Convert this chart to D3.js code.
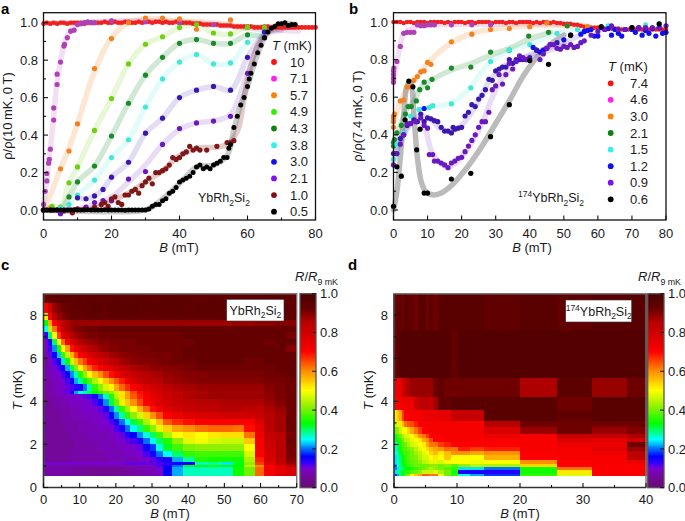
<!DOCTYPE html>
<html><head><meta charset="utf-8">
<script src="https://cdnjs.cloudflare.com/ajax/libs/d3/7.8.5/d3.min.js"></script>
<style>html,body{margin:0;padding:0;background:#fff}svg{display:block;font-family:"Liberation Sans",Arial,sans-serif;fill:#1a1a1a}</style>
</head><body><svg id="c" width="685" height="521"></svg>
<script>
// ---------- panel a ----------
const aRedV=[.995,1,.995,1,.995,1,1,.995,1,1,1,1,.995,1,1,1,1,1,1.005,1,1,1.005,1,1,1.005,1.005,1,1,1.005,1,1.005,1.005,1,1.005,1.005,1,1.005,1,1,1.005,1,1,1,1,.995,.995,.995,.99,.99,.99,.99,.99,.985,.985,.985,.985,.98,.98,.98,.98,.98,.98,.975,.975,.975,.98,.98,.975,.975,.975,.975,.975,.975,.975,.975,.975,.975,.975,.975,.975,.975];
const a71=[[0,.03],[.5,.1],[1,.155],[1,.195],[1.5,.25],[1.7,.27],[2,.325],[3,.48],[3,.545],[4,.67],[4,.725],[5,.79],[6,.875],[6.2,.885],[7,.92],[8,.955],[9,.96],[10,.99],[11,.995],[12,1],[13,1.005],[14,1],[15,1],[20,1.01],[30,1.005],[40,1],[50,.99],[60,.975],[65,.965]];
const g71=[[0,.03],[1,.17],[2,.33],[3,.5],[4,.69],[5,.79],[6,.88],[7,.93],[8,.96],[10,.99],[15,1.005],[30,1.01],[50,.99],[60,.97],[75,.955]];
const a57=[[0,0],[2,.01],[5,.22],[7.5,.315],[10,.46],[15,.755],[20,.915],[25,1],[30,1.025],[35,1.025],[40,1.02],[45,.965],[55,1.015],[60,.975]];
const g57=[[0,0],[2,.08],[5,.22],[7.5,.33],[10,.46],[15,.74],[20,.92],[25,1],[30,1.02],[40,1.01],[50,1],[60,.975]];
const a49=[[0,0],[2.5,.02],[5,.015],[7.5,.145],[10,.23],[15,.425],[20,.595],[25,.78],[30,.885],[35,.925],[40,.975],[45,.99],[50,.945],[55,.94],[60,.975],[65,.975]];
const a43=[[0,0],[5,.005],[7.5,.07],[10,.15],[15,.235],[20,.395],[25,.57],[30,.72],[35,.815],[40,.89],[45,.91],[50,.89],[55,.89],[60,.935],[65,.92]];
const a38=[[0,0],[5,.01],[7.5,.03],[10,.08],[15,.16],[20,.28],[25,.375],[30,.55],[35,.7],[40,.79],[45,.83],[50,.78],[55,.785],[60,.895],[65,.95]];
const a30=[[10,.065],[12.5,.06],[15,.075],[17.5,.11],[20,.175],[25,.255],[30,.41],[35,.49],[40,.6],[45,.64],[50,.66],[55,.64],[60,.815],[65,.95]];
const a21=[[0,0],[2.5,0],[5,-.02],[7.5,0],[10,.005],[12.5,.015],[15,.04],[17.5,.05],[20,.05],[25,.165],[30,.205],[35,.35],[40,.435],[45,.465],[50,.475],[55,.5],[60,.73],[65,.92]];
const g21=[[0,0],[10,.005],[15,.03],[20,.07],[25,.15],[30,.24],[35,.35],[40,.43],[45,.465],[50,.475],[55,.51],[60,.73],[65,.93],[70,.96]];
const a10=[[0,0],[2,0],[4,0],[6,-.005],[8.5,-.015],[10,.005],[12,.005],[15,.015],[17,.03],[18,.04],[19,.02],[20,.06],[21,.07],[22,.04],[23,.03],[24,.08],[25,.08],[26,.1],[27,.11],[28,.09],[29,.13],[30,.15],[31,.17],[32,.14],[33,.2],[34,.2],[35,.21],[36,.22],[37,.24],[38,.28],[39,.27],[40,.28],[41,.3],[42,.31],[43,.34],[44,.32],[45,.33],[46,.32],[48,.32],[51,.34],[54,.36],[55,.36],[56,.37]];
const g10=[[0,0],[15,.01],[20,.05],[25,.09],[30,.15],[35,.21],[40,.29],[45,.33],[50,.335],[54,.35],[57,.42],[60,.7],[63,.88],[66,.95],[70,.97],[74,.98]];
const a05=[[0,0],[1,0],[2,0],[3,0],[4,0],[5,0],[6,0],[7,0],[8,0],[9,.002],[10,0],[11,0],[12,0],[13,.002],[14,0],[15,0],[16,0],[17,0],[18,.002],[19,0],[20,0],[21,0],[22,0],[23,0],[24,-.002],[25,0],[26,0],[27,0],[28,0],[29,0],[30,0],[31,.005],[32,.02],[33,.03],[34,.03],[35,.05],[36,.06],[37,.09],[38,.1],[39,.12],[40,.15],[41,.16],[42,.17],[43,.18],[44,.2],[45,.23],[46,.24],[47,.22],[48,.23],[49,.22],[50,.24],[51,.25],[52,.26],[53,.28],[54,.28],[54.5,.33],[55,.35],[56,.44],[57,.5],[58,.56],[59,.6],[60,.66],[60.5,.7],[61,.73],[62,.78],[63,.84],[64,.88],[65,.92],[66,.95],[67,.97],[68,.98],[69,.995],[70,.995],[71,1],[72,.985],[73,.99],[74,.99]];
const g05=[[0,0],[30,0],[33,.03],[37,.09],[41,.16],[45,.23],[50,.24],[54,.29],[56,.43],[58,.56],[60,.66],[62,.78],[64,.88],[66,.95],[70,.995],[74,.99]];
const legendLabelsA=["10","7.1","5.7","4.9","4.3","3.8","3.0","2.1","1.0","0.5"];
const legendColorsA=["#ff1010","#ff20f0","#ff8000","#30f000","#108010","#30f0f0","#1010f0","#8010f0","#801010","#000000"];
// ---------- panel b ----------
const bRedV=[1,1,1,.995,1,1,.995,1,1,1,.995,1,1,1,1,.995,1,.995,1,1,1,.995,1,1,.995,1,1,1,1,.995,1,1,1,.995,1,1,.995,1,1,1,1,.995,1,.995,1,1,.995,1,.995,.995,.99,.99,.99,.985,.985,.98,.975,.975,.97,.97,.97,.97,.965,.965,.965,.965,.965,.96,.96,.96,.965,.96,.96,.96,.96,.96,.96,.96,.96,.96,.96];
const b46=[[0,.68],[0,.7],[0,.72],[0,.74],[.1,.755],[1,.79],[2,.87],[3,.94],[4,.945],[5,.945],[6,.945],[7,.985],[8,.98],[9,.98],[10,.985],[11,.985],[12,.985],[17,.985],[23,.985],[28.5,.985]];
const g46=[[0,.68],[1,.79],[2,.88],[3,.94],[5,.96],[7,.98],[12,.985],[30,.99],[50,.99]];
const b30=[[0,.44],[0,.47],[0,.49],[0,.5],[.3,.51],[2,.58],[3,.585],[4,.655],[5,.655],[6,.69],[7,.71],[8,.735],[9,.74],[10,.785],[11,.775],[17,.895],[23,.935],[28.5,.96],[34,.965],[40,.975],[45,.995],[51,.98],[57,.975]];
const g30=[[0,.47],[2,.57],[4,.65],[7,.71],[10,.78],[17,.89],[23,.94],[28.5,.96],[40,.98],[57,.98]];
const b21=[[0,.34],[0,.36],[.3,.375],[1,.41],[2.3,.45],[3.5,.51],[4.3,.55],[5.2,.55],[6.7,.58],[7.7,.64],[9,.68],[10,.65],[11.3,.695],[17,.755],[22.7,.76],[28.5,.84],[34,.85],[39.7,.925],[45.5,.945],[51,.98]];
const gb21=[[0,.36],[2,.45],[4,.54],[6,.58],[8,.65],[11,.69],[17,.745],[23,.78],[28,.82],[34,.86],[40,.91],[46,.945]];
const b15=[[0,.27],[1,.35],[3,.41],[5,.5],[7.5,.535],[10.5,.545],[11.5,.555],[17,.565],[22.7,.65],[28.5,.79],[34,.85],[40,.88],[48,.94],[54,.96],[63,.98],[70,.96],[74,.985],[78,.99]];
const gb15=[[0,.27],[3,.41],[5,.49],[8,.535],[11,.55],[17,.57],[22,.64],[28,.78],[34,.85],[40,.88],[48,.94],[56,.97]];
const b12=[[9,.54],[41,.865],[42,.85],[43,.84],[44,.85],[45,.86],[50,.905],[55,.935],[56,.95],[57,.955],[58,.96],[59,.925],[60,.925],[61,.97],[62,.96],[63,.965],[64,.93],[65,.96],[66,.94],[67,.925],[68,.96],[70,.96],[71,.945],[72,.97],[73,.93],[74,.955],[75,.94],[76,.965],[77,.925],[78,.97],[79,.94],[80,.945]];
const b12low=[[0,.3],[1,.3],[2,.38],[3,.4],[4,.45],[5,.46],[6,.48],[7,.47],[8,.51],[9,.47],[10,.49],[11,.485],[12,.475],[13,.47],[14,.44],[15,.42],[16,.42],[17,.41],[17.5,.44],[18,.43],[19,.435],[20,.44],[21,.5],[22,.52],[23,.56],[24,.55],[25,.59],[26,.61],[27,.64],[28,.695],[29,.69],[30,.74],[31,.75],[32,.76],[33,.76],[34,.8],[35,.78],[36,.8],[37,.8],[38,.8],[39,.8],[40,.81],[42,.85],[46,.88],[48,.89],[52,.93]];
const g12low=[[0,.3],[3,.41],[6,.48],[8,.5],[11,.48],[14,.43],[17,.42],[20,.45],[24,.55],[28,.68],[32,.76],[37,.8],[42,.84],[50,.89],[56,.94]];
const b09=[[0,.24],[.5,.3],[2,.35],[3,.4],[4,.46],[5,.46],[6.5,.47],[8,.49],[9,.45],[10,.435],[10.5,.295],[11.5,.295],[12,.26],[13,.26],[14,.25],[15,.24],[16,.225],[17,.25],[18,.26],[19,.275],[20,.28],[21,.31],[22,.34],[23,.37],[24,.4],[25,.44],[26,.47],[27,.47],[28,.52],[29,.64],[30,.66],[31,.72],[32,.67],[33,.72],[34,.78],[35,.75],[36,.79],[37,.82],[38,.81],[39,.8],[43,.8],[44,.83],[45,.86],[46,.88],[47,.88],[48,.86],[49,.855],[50,.87],[51,.865],[52,.88],[53,.865],[54,.87],[55,.89],[56,.9],[58,.93],[60,.95],[62,.96],[64,.98],[66,.96],[68,.96],[70,.97],[72,.97],[74,.97],[76,.97],[78,.97],[80,.98]];
const g09=[[0,.26],[3,.4],[6,.47],[8,.47],[9.5,.42],[11,.32],[13,.26],[16,.23],[19,.26],[22,.33],[26,.46],[29,.6],[33,.73],[37,.8],[43,.83],[50,.88]];
const b06=[[0,.02],[1,.23],[2.3,.18],[3.4,.48],[4.5,.685],[5.7,.655],[6.8,.32],[7.8,.43],[9,.09],[10,.09],[17,.165],[22.7,.195],[28.5,.39],[34,.56],[40,.795],[45.5,.775],[52,.93],[61,.975],[70,.97],[78,.99]];
const g06=[[0,0],[1,.1],[2,.28],[3,.5],[4,.66],[5,.68],[6,.5],[7,.28],[8,.16],[9,.11],[10,.09],[12,.08],[14,.09],[17,.13],[20,.19],[23,.26],[26,.34],[30,.46],[34,.58],[38,.71],[42,.81],[46,.88],[50,.93]];
const legendLabelsB=["7.4","4.6","3.0","2.1","1.5","1.2","0.9","0.6"];
const legendColorsB=["#ff1010","#ff20f0","#ff8000","#108010","#30f0f0","#1010f0","#8010f0","#000000"];
// ---------- panel c ----------
const cB=[0,1.2,2.4,3.6,4.8,6,7.2,8.4,9.6,10.8,12,13.5,15,16.5,18,19.5,21,22.5,24,25.8,27.6,29.4,31,33,35.5,38.5,42,45.5,49,52.5,55.5,58.5,61,64,67,70];
const cT=[9,8.55,8.1,7.8,7.5,7.2,6.9,6.6,6.3,6,5.7,5.4,5.1,4.8,4.5,4.35,4.1,3.8,3.5,3.2,2.9,2.6,2.3,2,1.7,1.4,1.2,1.05,.95,.55];
const cR=[
[92,93,94,94,95,95,94,95,95,94,95,95,94,94,95,95,95,94,95,95,95,94,95,95,95,95,94,95,94,95,95,95,94,95,94],
[72,80,88,91,92,93,93,94,94,94,94,95,95,94,95,95,95,95,95,94,95,95,95,95,95,94,95,95,95,95,95,94,95,95,94],
[52,72,85,88,90,92,93,93,93,94,94,94,94,93,94,94,94,94,94,94,94,93,94,94,94,94,94,94,94,94,94,94,93,94,94],
[33,58,70,79,84,86,88,88,88,88,88,88,88,88,88,88,88,88,88,88,88,88,88,88,88,88,88,88,88,88,88,89,89,90,90],
[25,45,62,72,82,86,88,90,91,92,92,92,93,93,93,93,93,93,93,93,93,93,93,93,93,93,93,93,93,93,93,93,93,93,93],
[13,30,50,66,76,81,85,87,89,90,91,91,92,92,92,92,92,92,92,92,92,92,92,92,92,93,93,93,93,93,93,93,93,93,91],
[10,14,30,50,63,72,78,82,85,87,88,89,90,90,91,91,91,91,91,92,92,92,92,92,92,92,93,93,93,93,93,93,92,93,93],
[9,12,21,34,50,59,69,74,78,81,84,86,88,89,90,90,91,91,91,91,91,92,92,92,92,93,93,93,93,93,93,93,93,93,90],
[8,11,15,23,36,46,57,65,71,75,78,81,83,85,87,88,89,90,90,91,91,91,91,91,92,93,93,93,93,93,93,93,93,93,93],
[7,9,12,15,24,34,47,56,62,66,71,75,78,81,83,85,87,88,89,90,90,90,91,91,92,92,93,93,93,93,92,92,93,93,93],
[7,8,10,12,15,22,31,41,51,58,63,68,71,74,77,80,82,84,86,87,88,89,89,90,90,91,92,92,92,92,92,92,92,93,93],
[7,8,9,10,12,15,21,27,35,42,50,56,60,65,69,73,77,80,82,84,85,86,87,88,89,90,90,91,91,91,91,91,92,92,93],
[7,7,8,9,10,12,15,22,28,33,38,44,49,55,60,64,68,73,78,81,83,84,85,87,88,89,90,90,90,90,90,90,91,91,92],
[7,7,8,9,10,11,12,13,14,20,28,36,42,47,51,58,63,67,71,75,78,80,82,84,86,87,88,88,88,88,88,88,90,91,92],
[6,7,8,9,10,11,14,22,26,28,30,33,36,40,42,46,52,58,65,69,73,76,79,81,83,85,86,87,87,87,87,87,89,91,92],
[6,7,7,8,8,9,9,10,10,11,12,14,20,27,35,45,53,59,64,68,72,75,78,81,83,86,87,88,88,88,88,88,89,91,92],
[6,6,7,7,8,8,9,9,9,10,10,12,15,21,31,40,48,55,60,65,70,74,77,80,82,84,85,85,86,86,86,86,88,90,92],
[6,6,6,7,7,7,8,8,9,9,10,10,11,14,20,28,36,43,50,57,63,69,73,77,80,82,83,84,85,85,84,83,86,88,92],
[6,6,6,6,7,7,8,8,8,9,9,9,10,11,16,21,28,36,42,47,54,60,65,71,74,77,78,79,80,80,80,82,85,87,92],
[6,6,6,6,7,7,7,7,8,8,8,9,9,10,12,14,20,25,31,37,44,49,56,64,67,69,71,71,71,71,71,77,85,87,92],
[6,6,6,6,6,7,7,7,8,8,8,8,9,9,10,12,14,20,25,29,36,42,48,54,58,60,62,63,63,62,69,75,84,87,92],
[6,6,6,6,6,6,7,7,7,7,8,8,8,8,9,10,11,14,16,21,26,30,37,44,50,52,50,52,53,53,62,73,82,85,91],
[6,6,6,6,6,6,6,7,7,7,7,8,8,8,8,9,10,11,12,14,20,25,30,35,42,48,49,47,46,46,55,72,81,85,92],
[6,6,6,6,6,6,6,7,7,7,7,7,8,8,8,8,9,9,10,11,15,18,26,32,37,41,42,42,42,42,50,72,80,85,91],
[6,6,6,6,6,6,7,7,7,7,7,7,7,8,8,8,8,9,9,10,12,15,20,25,30,36,37,37,37,37,47,70,79,85,91],
[6,6,6,6,6,6,7,7,7,7,7,7,7,7,8,8,8,8,8,9,10,11,13,15,22,28,35,34,34,34,44,68,78,84,90],
[9,9,10,10,10,10,10,10,10,10,10,10,10,10,10,10,10,11,11,11,11,11,12,13,15,16,27,28,24,32,42,66,76,83,88],
[7,7,7,7,7,7,7,7,7,7,7,7,8,8,8,8,8,8,8,9,9,10,12,15,20,32,33,35,33,33,45,60,70,76,82],
[7,7,7,7,7,7,6,6,6,6,5,5,5,5,5,5,5,6,7,7,8,8,10,16,22,27,27,27,27,34,40,63,72,76,78]];
// ---------- panel d ----------
const dB=[0,.4,.8,1.2,1.6,2,2.6,3.2,3.8,4.4,5,5.6,6.2,7,8,9,10.2,12,14.3,20,25.8,31.5,37,40];
const dT=[9,7.3,5.1,4.2,3.6,3.1,2.8,2.5,2.3,2.1,1.9,1.7,1.5,1.3,1.1,.95,.8,.65,.55];
const dR=[
[92,94,94,92,96,94,94,92,96,96,92,96,92,96,96,96,96,96,94,96,94,96,96],
[92,94,97,97,97,97,97,97,97,97,97,97,97,97,97,93,97,97,97,97,97,97,97],
[74,74,75,80,84,86,88,88,88,88,88,88,92,94,92,92,92,92,92,86,95,88,92],
[70,72,72,74,74,74,74,80,84,84,85,82,87,94,94,96,96,96,96,96,92,96,96],
[52,55,58,66,70,72,72,72,72,74,74,74,74,75,75,82,82,82,96,96,94,96,96],
[46,48,52,56,62,64,65,68,72,72,72,72,72,72,72,72,72,72,85,92,92,92,92],
[40,42,46,50,50,54,58,62,66,70,72,72,72,72,72,72,72,72,78,88,92,88,90],
[34,37,40,44,47,48,50,54,60,62,66,70,72,72,72,72,72,72,74,72,82,82,86],
[32,34,37,40,45,45,48,50,52,58,60,65,70,70,72,72,72,72,72,72,78,76,80],
[28,30,35,38,40,44,47,48,50,52,58,62,62,66,68,70,70,70,70,72,74,74,92],
[27,30,34,37,38,40,42,45,48,50,53,56,58,60,63,62,68,66,68,72,72,76,88],
[25,28,32,35,37,38,40,43,45,48,50,54,56,52,56,60,60,58,60,71,72,74,84],
[24,27,30,33,36,38,40,41,44,47,47,50,52,50,55,50,50,50,57,70,72,72,84],
[24,26,30,33,35,37,39,40,42,45,46,48,48,47,50,50,50,49,50,60,70,72,74],
[22,25,30,32,34,36,38,40,40,40,40,42,42,40,42,38,42,45,44,54,70,72,72],
[21,24,28,30,32,33,34,36,38,40,42,44,42,40,38,36,24,24,20,34,62,70,70],
[24,28,30,32,35,36,38,40,42,46,46,46,48,44,40,34,15,15,14,34,52,72,72],
[18,22,30,32,38,42,50,55,58,64,64,62,62,50,40,36,25,22,18,36,48,70,70]];
// ---------- colour scale stops ----------
const cmapStops=[0,.06,.1,.13,.16,.25,.33,.42,.5,.6,.7,.85,.93,1];
const cmapColors=["#680a78","#74089a","#7a00d0","#3000ff","#0000ff","#00ffff","#00ff00","#90f000","#ffff00","#ff9000","#ff0000","#b80000","#640000","#4a0000"];

const svg=d3.select("#c");
const FS=13;
const cmap=d3.scaleLinear().domain(cmapStops).range(cmapColors).clamp(true);
function rich(g,x,y,segs,opt={}){
  const t=g.append("text").attr("x",x).attr("y",y).attr("font-size",opt.fs||FS)
    .attr("text-anchor",opt.anchor||"start");
  if(opt.rot!==undefined) t.attr("transform",`rotate(${opt.rot} ${x} ${y})`);
  if(opt.weight) t.attr("font-weight",opt.weight);
  let prev=0;
  segs.forEach(s=>{
    const [txt,k]=Array.isArray(s)?s:[s,""];
    const ts=t.append("tspan").text(txt);
    let off=0;
    if(k==="i") ts.attr("font-style","italic");
    if(k==="sub"){off=.28*(opt.fs||FS);ts.attr("font-size",(opt.fs||FS)*.68);}
    if(k==="sup"){off=-.4*(opt.fs||FS);ts.attr("font-size",(opt.fs||FS)*.68);}
    if(off!==prev) ts.attr("dy",off-prev);
    prev=off;
  });
  return t;
}
const chem=[["YbRh"],["2","sub"],["Si"],["2","sub"]];
const chem174=[["174","sup"],...chem];

function axes(g,x,y,xT,xM,yT,yM,yFmt,w,xTop,yBottom,left,right,labX,labBase){
  const ax=g.append("g").attr("stroke","#111").attr("stroke-width",1.1);
  xM.forEach(v=>ax.append("line").attr("x1",x(v)).attr("x2",x(v)).attr("y1",yBottom).attr("y2",yBottom-2.5));
  xT.forEach(v=>ax.append("line").attr("x1",x(v)).attr("x2",x(v)).attr("y1",yBottom).attr("y2",yBottom-4.5));
  yM.forEach(v=>ax.append("line").attr("x1",left).attr("x2",left+2.5).attr("y1",y(v)).attr("y2",y(v)));
  yT.forEach(v=>ax.append("line").attr("x1",left).attr("x2",left+4.5).attr("y1",y(v)).attr("y2",y(v)));
  xT.forEach(v=>g.append("text").attr("x",x(v)).attr("y",labBase).attr("text-anchor","middle").attr("font-size",FS).text(v));
  yT.forEach(v=>g.append("text").attr("x",labX).attr("y",y(v)+4.6).attr("text-anchor","end").attr("font-size",FS).text(yFmt(v)));
}
function scatter(x,y,list){
  const line=d3.line().x(d=>x(d[0])).y(d=>y(d[1])).curve(d3.curveCatmullRom.alpha(.5));
  const g=svg.append("g");
  list.forEach(s=>{ if(s.guide) g.append("path").attr("d",line(s.guide)).attr("fill","none").attr("stroke",s.gc||s.c).attr("stroke-opacity",s.go||.17).attr("stroke-width",s.gw||5.5).attr("stroke-linecap","round"); });
  list.forEach(s=>{ g.append("g").attr("fill",s.c).selectAll("circle").data(s.p).join("circle")
    .attr("cx",d=>x(d[0])).attr("cy",d=>y(d[1])).attr("r",s.r||2.6); });
}
function legend(cx,tx,ys,labels,colors,titleY,titleX){
  rich(svg,titleX,titleY,[["T","i"],[" (mK)"]]);
  labels.forEach((l,i)=>{
    svg.append("circle").attr("cx",cx).attr("cy",ys(i)).attr("r",2.9).attr("fill",colors[i]);
    svg.append("text").attr("x",tx).attr("y",ys(i)+4.6).attr("font-size",FS).text(l);
  });
}
const frame=(l,t,r,b,c,w)=>svg.append("rect").attr("x",l).attr("y",t).attr("width",r-l).attr("height",b-t).attr("fill","none").attr("stroke",c).attr("stroke-width",w);

// ---- a ----
{
 const x=d3.scaleLinear().domain([0,80]).range([43.5,315.5]);
 const y=d3.scaleLinear().domain([0,1]).range([210,22.7]);
 const aRed=aRedV.map((v,i)=>[i,v]);
 scatter(x,y,[
  {p:aRed,c:"#f02020",guide:aRed,go:.3,gw:5,r:2.3},
  {p:a71,c:"#b040b8",guide:g71},
  {p:a57,c:"#f58020",guide:g57,go:.2},
  {p:a49,c:"#70d010",guide:a49},
  {p:a43,c:"#1a8a2a",guide:a43,go:.2},
  {p:a38,c:"#40e8d8",guide:a38,go:.14},
  {p:a30,c:"#3a18b0",guide:a30,go:.15},
  {p:a21,c:"#6a18c0",guide:g21,go:.15},
  {p:a10,c:"#801818",guide:g10,go:.22},
  {p:a05,c:"#000",guide:g05,gc:"#555",go:.3,r:2.5},
 ]);
 frame(43.5,12.7,315.5,220,"#111",1.3);
 axes(svg,x,y,[0,20,40,60,80],[10,30,50,70],[0,.2,.4,.6,.8,1],[.1,.3,.5,.7,.9],d3.format(".1f"),0,12.7,220,43.5,315.5,38,237.5);
 rich(svg,179,251.5,[["B","i"],[" (mT)"]],{anchor:"middle"});
 rich(svg,12,116,["ρ/ρ(10\u2009mK,\u20090\u2009T)"],{anchor:"middle",rot:-90});
 rich(svg,198,202,chem,{fs:12.5});
 legend(274,290,i=>62+i*16.63,legendLabelsA,legendColorsA,50,272);
}
// ---- b ----
{
 const x=d3.scaleLinear().domain([0,80]).range([393.5,666]);
 const y=d3.scaleLinear().domain([0,1]).range([210,22]);
 const bRed=bRedV.map((v,i)=>[i,v]);
 scatter(x,y,[
  {p:bRed,c:"#f02020",r:2.3},
  {p:b46,c:"#b040b8",guide:g46},
  {p:b30,c:"#f58020",guide:g30,go:.2},
  {p:b21,c:"#1a8a2a",guide:gb21,go:.2},
  {p:b15,c:"#40e8d8",guide:gb15,go:.14},
  {p:b12,c:"#1010f0"},
  {p:b12low,c:"#3a18b0",guide:g12low,go:.15},
  {p:b09,c:"#6a18c0",guide:g09,go:.15},
  {p:b06,c:"#000",guide:g06,gc:"#555",go:.4},
 ]);
 frame(393.5,12.7,666,220,"#111",1.3);
 axes(svg,x,y,[0,10,20,30,40,50,60,70,80],[],[0,.2,.4,.6,.8,1],[.1,.3,.5,.7,.9],d3.format(".1f"),0,12.7,220,393.5,666,388,237.5);
 rich(svg,532,251.5,[["B","i"],[" (mT)"]],{anchor:"middle"});
 rich(svg,362,116,["ρ/ρ(7.4\u2009mK,\u20090\u2009T)"],{anchor:"middle",rot:-90});
 rich(svg,518,202,chem174,{fs:12.5});
 legend(610.7,630,i=>83.3+i*16.57,legendLabelsB,legendColorsB,71,608);
}
// ---- heat maps ----
function heat(B,T,R,xr,bar,xT,xM,lab,labRect,titleX,titleLabX,yLabX,yAxisX,colX){
 const x=d3.scaleLinear().domain([B[0],B[B.length-1]]).range(xr);
 const y=d3.scaleLinear().domain([0,9]).range([487.5,293.7]);
 const g=svg.append("g").attr("shape-rendering","crispEdges");
 R.forEach((row,j)=>row.forEach((v,i)=>{
   g.append("rect").attr("x",x(B[i])).attr("y",y(T[j])).attr("width",x(B[i+1])-x(B[i])+.5).attr("height",y(T[j+1])-y(T[j])+.5).attr("fill",cmap(v/100));
 }));
 const f=svg.append("g");
 f.append("path").attr("d",`M${xr[0]} 487.5V293.7H${xr[1]}V487.5`).attr("fill","none").attr("stroke","#777").attr("stroke-width",1.4);
 f.append("path").attr("d",`M${xr[0]} 293.7V487.5H${xr[1]}`).attr("fill","none").attr("stroke","#333").attr("stroke-width",1.4);
 axes(svg,x,y,xT,xM,[0,2,4,6,8],[1,3,5,7],d3.format("d"),0,293.7,487.5,xr[0],xr[1],yAxisX,504);
 rich(svg,(xr[0]+xr[1])/2,518,[["B","i"],[" (mT)"]],{anchor:"middle"});
 rich(svg,yLabX,390,[["T","i"],[" (mK)"]],{anchor:"middle",rot:-90});
 svg.append("rect").attr("x",labRect[0]).attr("y",labRect[1]).attr("width",labRect[2]).attr("height",labRect[3]).attr("fill","#fff").attr("stroke","#333").attr("stroke-width",.6);
 rich(svg,labRect[0]+labRect[2]/2,labRect[1]+15.5,lab,{anchor:"middle",fs:12.5});
 // colour bar
 const cy=d3.scaleLinear().domain([0,1]).range([487.7,293.7]);
 const cg=svg.append("g").attr("shape-rendering","crispEdges");
 d3.range(0,1,.005).forEach(v=>cg.append("rect").attr("x",bar[0]).attr("width",bar[1]-bar[0]).attr("y",cy(v+.005)).attr("height",cy(v)-cy(v+.005)+.5).attr("fill",cmap(v)));
 frame(bar[0],293.7,bar[1],487.7,"#555",1.3);
 [0,.2,.4,.6,.8,1].forEach(v=>{
   svg.append("line").attr("x1",bar[1]-4).attr("x2",bar[1]).attr("y1",cy(v)).attr("y2",cy(v)).attr("stroke","#111").attr("stroke-width",1);
   svg.append("text").attr("x",bar[1]+4).attr("y",cy(v)+4.6).attr("font-size",FS).text(d3.format(".1f")(v));
 });
 rich(svg,titleX,281,[["R","i"],["/"],["R","i"],["9 mK","sub"]],{fs:13});
}
heat(cB,cT,cR,[43.5,296.7],[300,316],[0,10,20,30,40,50,60,70],[5,15,25,35,45,55,65],chem,[226.7,299.3,57.3,21.7],295,0,22,37);
heat(dB,dT,dR,[394,646],[647.7,664],[0,10,20,30,40],[5,15,25,35],chem174,[565.7,300,66,22],638,0,373,388);
// ---- panel letters ----
[["a",1,13.5],["b",349,13.8],["c",1,270],["d",348,270]].forEach(d=>svg.append("text").attr("x",d[1]).attr("y",d[2]).attr("font-size",15).attr("font-weight","bold").attr("fill","#000").text(d[0]));
</script></body></html>
